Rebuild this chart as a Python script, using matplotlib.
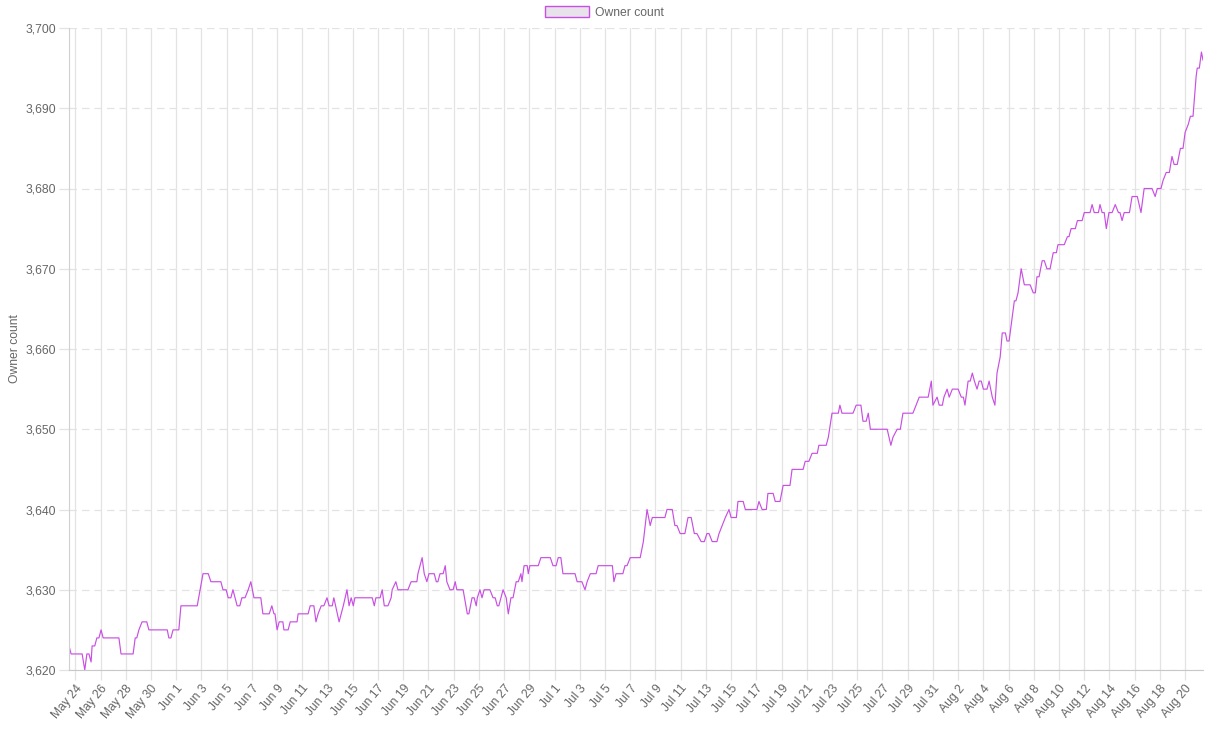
import numpy as np
import matplotlib
matplotlib.use("Agg")
import matplotlib.pyplot as plt
from matplotlib.patches import Patch
from matplotlib.ticker import FuncFormatter
from datetime import datetime, timedelta

plt.rcParams['font.family'] = ['Liberation Sans', 'DejaVu Sans']

start = datetime(2023, 5, 24)

# hours since May 24 00:00
hours = [-12, -8, 13, 18, 22, 26, 30, 32, 37, 41, 45, 49, 53, 83, 87, 110, 114, 117, 121, 127,
         136, 140, 175, 178, 182, 186, 197, 201, 232, 243, 253, 258, 277, 281, 287, 291, 296, 300,
         308, 313, 317, 323, 329, 334, 340, 353, 357, 369, 374, 378, 380, 384, 388, 395, 397, 405,
         409, 422, 424, 443, 447, 454, 458, 462, 468, 473, 479, 483, 489, 492, 502, 506, 510, 517,
         521, 525, 529, 532, 565, 569, 572, 580, 584, 588, 595, 601, 603, 610, 614, 633, 639, 650,
         652, 660, 664, 669, 673, 683, 687, 690, 694, 700, 704, 707, 713, 719, 723, 726, 738, 746,
         749, 755, 759, 763, 765, 770, 774, 778, 789, 795, 799, 803, 806, 810, 814, 820, 824, 829,
         833, 839, 843, 848, 850, 854, 860, 862, 865, 881, 886, 904, 909, 915, 919, 924, 928, 951,
         955, 964, 970, 974, 980, 991, 995, 1022, 1025, 1029, 1042, 1046, 1050, 1056, 1075, 1081,
         1088, 1094, 1098, 1122, 1126, 1136, 1141, 1145, 1151, 1160, 1166, 1172, 1178, 1183, 1191,
         1197, 1202, 1206, 1212, 1221, 1225, 1231, 1237, 1244, 1248, 1258, 1261, 1271, 1275, 1297,
         1301, 1307, 1315, 1318, 1328, 1332, 1341, 1347, 1360, 1364, 1385, 1389, 1396, 1402, 1412,
         1415, 1429, 1433, 1440, 1452, 1455, 1459, 1480, 1486, 1495, 1499, 1505, 1509, 1513, 1545,
         1552, 1556, 1564, 1570, 1575, 1594, 1600, 1606, 1623, 1629, 1632, 1640, 1644, 1650, 1653,
         1659, 1663, 1669, 1680, 1686, 1690, 1693, 1699, 1703, 1707, 1711, 1716, 1720, 1724, 1728,
         1735, 1739, 1745, 1750, 1754, 1760, 1764, 1770, 1773, 1777, 1783, 1787, 1790, 1794, 1800,
         1806, 1817, 1823, 1827, 1830, 1834, 1840, 1844, 1849, 1855, 1861, 1867, 1870, 1882, 1888,
         1891, 1895, 1903, 1907, 1916, 1920, 1931, 1935, 1939, 1947, 1950, 1954, 1958, 1962, 1967,
         1973, 1979, 1985, 1988, 1992, 1996, 2006, 2011, 2021, 2028, 2034, 2049, 2055, 2059, 2066,
         2070, 2076, 2082, 2087, 2091, 2097, 2103, 2108, 2112, 2118, 2122, 2127, 2133, 2135, 2139,
         2143, 2146]

owners = [3623, 3622, 3622, 3620, 3622, 3622, 3621, 3623, 3623, 3624, 3624, 3625, 3624, 3624, 3622,
          3622, 3624, 3624, 3625, 3626, 3626, 3625, 3625, 3624, 3624, 3625, 3625, 3628, 3628, 3632,
          3632, 3631, 3631, 3630, 3630, 3629, 3629, 3630, 3628, 3628, 3629, 3629, 3630, 3631, 3629,
          3629, 3627, 3627, 3628, 3627, 3627, 3625, 3626, 3626, 3625, 3625, 3626, 3626, 3627, 3627,
          3628, 3628, 3626, 3627, 3628, 3628, 3629, 3628, 3628, 3629, 3626, 3627, 3628, 3630, 3628,
          3629, 3628, 3629, 3629, 3628, 3629, 3629, 3630, 3628, 3628, 3629, 3630, 3631, 3630, 3630,
          3631, 3631, 3632, 3634, 3632, 3631, 3632, 3632, 3631, 3631, 3632, 3632, 3633, 3631, 3630,
          3630, 3631, 3630, 3630, 3627, 3627, 3629, 3629, 3628, 3629, 3630, 3629, 3630, 3630, 3629,
          3629, 3628, 3628, 3629, 3630, 3629, 3627, 3629, 3629, 3631, 3631, 3632, 3631, 3633, 3633,
          3632, 3633, 3633, 3634, 3634, 3633, 3633, 3634, 3634, 3632, 3632, 3631, 3631, 3630, 3631,
          3632, 3632, 3633, 3633, 3631, 3632, 3632, 3633, 3633, 3634, 3634, 3636, 3640, 3638, 3639,
          3639, 3640, 3640, 3638, 3638, 3637, 3637, 3639, 3639, 3637, 3637, 3636, 3636, 3637, 3637,
          3636, 3636, 3637, 3638, 3639, 3640, 3639, 3639, 3641, 3641, 3640, 3640, 3641, 3640, 3640,
          3642, 3642, 3641, 3641, 3643, 3643, 3645, 3645, 3646, 3646, 3647, 3647, 3648, 3648, 3649,
          3652, 3652, 3653, 3652, 3652, 3653, 3653, 3651, 3651, 3652, 3650, 3650, 3648, 3649, 3650,
          3650, 3652, 3652, 3653, 3654, 3654, 3656, 3653, 3654, 3653, 3653, 3654, 3655, 3654, 3655,
          3655, 3654, 3654, 3653, 3656, 3656, 3657, 3656, 3655, 3656, 3656, 3655, 3655, 3656, 3654,
          3653, 3657, 3659, 3662, 3662, 3661, 3661, 3664, 3666, 3666, 3667, 3670, 3668, 3668, 3667,
          3667, 3669, 3669, 3671, 3671, 3670, 3670, 3672, 3672, 3673, 3673, 3674, 3674, 3675, 3675,
          3676, 3676, 3677, 3677, 3678, 3677, 3677, 3678, 3677, 3677, 3675, 3677, 3677, 3678, 3677,
          3677, 3676, 3677, 3677, 3679, 3679, 3677, 3680, 3680, 3679, 3680, 3680, 3681, 3682, 3682,
          3684, 3683, 3683, 3685, 3685, 3687, 3688, 3689, 3689, 3694, 3695, 3695, 3697, 3696]

times = [start + timedelta(hours=h) for h in hours]

line_color = '#c94fe3'
grid_color = '#e3e3e3'
text_color = '#666666'

fig = plt.figure(figsize=(12.16, 7.31), dpi=100)
ax = fig.add_axes([69 / 1216, 1 - 670 / 731, (1203 - 69) / 1216, (670 - 28) / 731])

ax.plot(times, owners, color=line_color, linewidth=0.85)

ax.set_xlim(times[0], times[-1])
ax.set_ylim(3620, 3700)
ax.set_yticks(np.arange(3620, 3701, 10))
ax.yaxis.set_major_formatter(FuncFormatter(lambda v, p: f"{int(v):,}"))

ticks = [start + timedelta(days=2 * i) for i in range(45)]
ax.set_xticks(ticks)
ax.set_xticklabels([t.strftime('%b ') + str(t.day) for t in ticks])
plt.setp(ax.get_xticklabels(), rotation=50, ha='right', rotation_mode='anchor')

ax.grid(axis='x', color=grid_color, linewidth=0.9, linestyle='-')
ax.grid(axis='y', color=grid_color, linewidth=0.9, linestyle=(0, (6, 4)))
ax.set_axisbelow(True)

for side in ['top', 'right']:
    ax.spines[side].set_visible(False)
ax.spines['left'].set_color('#d0d0d0')
ax.spines['bottom'].set_color('#c8c8c8')

ax.tick_params(axis='both', colors=grid_color, labelcolor=text_color, labelsize=8.7,
               length=7, width=0.9)
ax.tick_params(axis='x', pad=2)
ax.tick_params(axis='y', pad=2)

ax.set_ylabel('Owner count', color=text_color, fontsize=8.7)
ax.yaxis.set_label_coords(-0.042, 0.5)

handle = Patch(facecolor='#e8e2ea', edgecolor=line_color, linewidth=1.0)
fig.legend([handle], ['Owner count'], loc='upper center', bbox_to_anchor=(0.497, 1.006),
           frameon=False, fontsize=8.7, labelcolor=text_color,
           handlelength=3.6, handleheight=1.0, handletextpad=0.5)

fig.savefig('out.png', dpi=100)
